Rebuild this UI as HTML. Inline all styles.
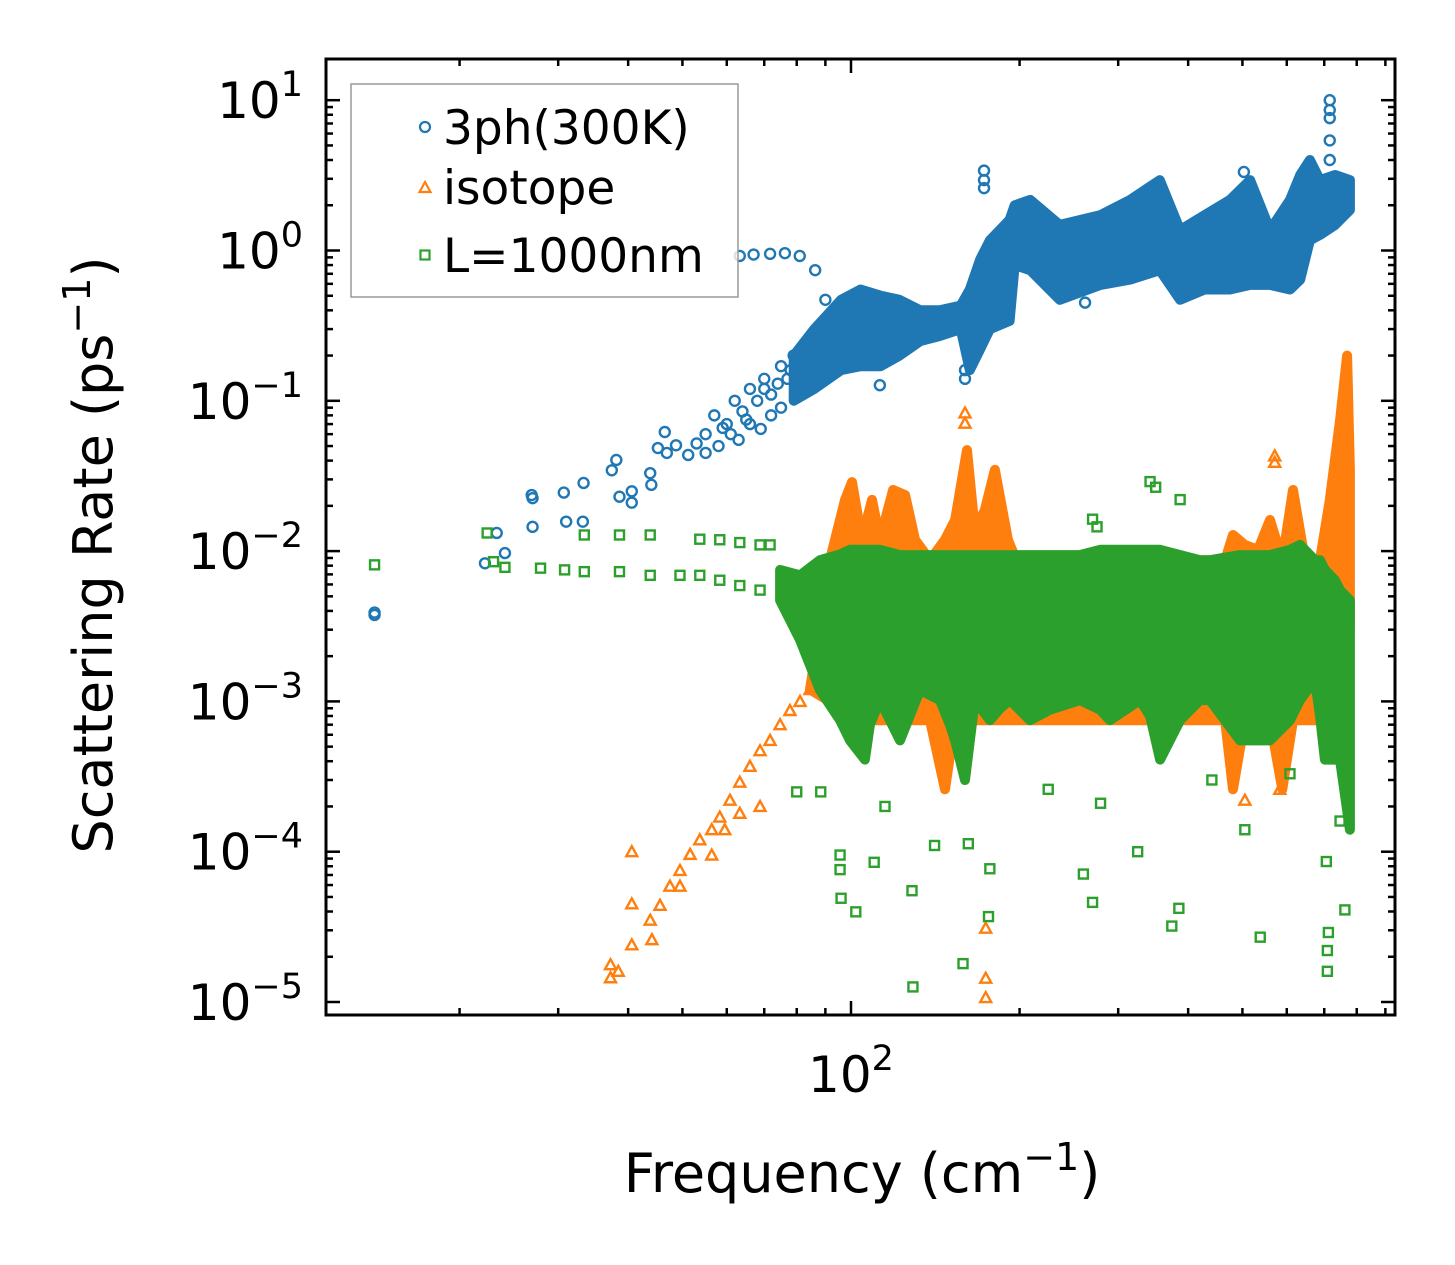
<!DOCTYPE html>
<html><head><meta charset="utf-8"><style>
html,body{margin:0;padding:0;background:#fff;}
svg{display:block;font-family:"DejaVu Sans","Liberation Sans",sans-serif;}
</style></head><body>
<svg id="chart" width="1455" height="1265" viewBox="0 0 1455 1265" xmlns="http://www.w3.org/2000/svg">
<rect x="0" y="0" width="1455" height="1265" fill="#fff"/>
<defs><clipPath id="clip"><rect x="326" y="59" width="1069" height="956"/></clipPath></defs>
<g id="bands" clip-path="url(#clip)"></g>
<g id="ticks"></g>
<rect x="326" y="59" width="1069" height="956" fill="none" stroke="#000" stroke-width="3"/>
<g id="ylabels" font-size="50" text-anchor="end"></g>
<text x="851" y="1092" font-size="50" text-anchor="middle">10<tspan font-size="35" dy="-22">2</tspan></text>
<text x="862" y="1192" font-size="54" text-anchor="middle">Frequency (cm<tspan font-size="38" dy="-22">−1</tspan><tspan dy="22">)</tspan></text>
<text transform="translate(112,555) rotate(-90)" font-size="54" text-anchor="middle">Scattering Rate (ps<tspan font-size="38" dy="-22">−1</tspan><tspan dy="22">)</tspan></text>
<g>
<rect x="351" y="84" width="387" height="213" fill="#fff" fill-opacity="0.8" stroke="#999" stroke-width="1.5"/>
<circle cx="425" cy="127" r="5" fill="none" stroke="#1f77b4" stroke-width="2.2"/>
<text x="443" y="144" font-size="47">3ph(300K)</text>
<path d="M425,182 L430.5,192 L419.5,192 Z" fill="none" stroke="#ff7f0e" stroke-width="2.2"/>
<text x="443" y="204" font-size="47">isotope</text>
<rect x="420.5" y="250.5" width="9" height="9" fill="none" stroke="#2ca02c" stroke-width="2.2"/>
<text x="443" y="272" font-size="47">L=1000nm</text>
</g>
</svg>
<script>
// ---- data ----
const blueBandFreq=[79,86,96,104,113,122,133,144,157,163,170,177,192,196,209,236,279,315,356,387,428,475,516,560,608,634,660,688,732,778];
const blueBandHi=[0.2,0.3,0.47,0.55,0.5,0.47,0.40,0.40,0.43,0.55,0.87,1.17,1.6,2.0,2.17,1.48,1.72,2.17,2.94,1.37,1.72,2.17,2.94,1.37,2.17,3.18,4.0,2.94,3.18,2.94];
const blueBandLo=[0.1,0.12,0.16,0.17,0.17,0.2,0.25,0.27,0.30,0.16,0.22,0.30,0.34,0.80,0.74,0.47,0.59,0.64,0.74,0.47,0.55,0.55,0.59,0.59,0.55,0.64,1.17,1.27,1.48,1.86];
const blueFreq=[14.1,14.1,22.2,23.3,24.1,26.9,27.0,27.0,30.7,31,33.2,33.3,37.4,38.1,38.6,40.6,40.6,43.8,44,45.2,46.5,46.9,48.7,51.2,63.3,67,71.7,76.2,81,86.3,90,112.6,159.8,159.8,172.8,172.8,172.8,261.8,716,716,716,716,716,503,560,610,
55,57,60,62,64,66,68,70,72,75,77,79,55,58,61,63,66,69,72,75,53,59,65,70,74,78];
const blueRate=[0.00376,0.0039,0.0083,0.0132,0.0097,0.0236,0.0225,0.0145,0.0245,0.0157,0.0157,0.0284,0.0345,0.0404,0.023,0.021,0.025,0.033,0.0276,0.0485,0.062,0.045,0.0506,0.0436,0.92,0.94,0.95,0.96,0.92,0.74,0.47,0.127,0.16,0.14,3.4,2.94,2.6,0.45,4.0,5.4,7.6,8.6,10.0,3.33,0.7,0.65,
0.06,0.08,0.07,0.1,0.085,0.12,0.1,0.14,0.11,0.17,0.14,0.2,0.045,0.05,0.06,0.055,0.07,0.065,0.08,0.09,0.052,0.066,0.075,0.12,0.13,0.16];

const orangeBandFreq=[84.5,91.7,97.6,100.4,104.6,109,112.6,118.9,124.9,130.1,138.4,147.2,153.4,161.1,166.4,173.4,180.7,190.6,200.4,236,278.6,328,387,465.6,481,505,533,560,589,615.6,646.6,688,716,747,769,778];
const orangeBandHi=[0.0012,0.0087,0.022,0.0288,0.0119,0.0219,0.0119,0.0255,0.0236,0.0119,0.0087,0.0119,0.0161,0.047,0.0138,0.0188,0.0347,0.0119,0.0075,0.0087,0.0087,0.0087,0.0087,0.0087,0.0128,0.011,0.0102,0.0161,0.0087,0.0255,0.0087,0.0087,0.0219,0.0745,0.2,0.0347];
const orangeBandLo=[0.0012,0.001,0.00075,0.00075,0.00075,0.00075,0.00075,0.00075,0.00075,0.00075,0.00075,0.00026,0.00075,0.00075,0.00075,0.00075,0.00075,0.00075,0.00075,0.00075,0.00075,0.00075,0.00075,0.00075,0.00026,0.00075,0.00075,0.00075,0.00026,0.00075,0.00075,0.00075,0.00075,0.00075,0.00075,0.0035];
const orangeFreq=[37.2,37.2,38.4,40.6,43.8,44.1,45.6,47.5,49.5,51.6,53.7,56.4,56.4,58.3,60.8,63.3,66,68.8,71.7,74.7,77.8,81.1,84.5,63.3,68.8,59.5,49.5,40.6,40.6,174,174,174,159.8,159.8,571,571,583,505];
const orangeRate=[1.77e-5,1.45e-5,1.6e-5,2.4e-5,3.5e-5,2.6e-5,4.4e-5,5.9e-5,7.5e-5,9.6e-5,1.2e-4,1.4e-4,9.5e-5,1.7e-4,2.2e-4,2.9e-4,3.7e-4,4.7e-4,5.5e-4,7e-4,8.7e-4,1.0e-3,1.2e-3,1.8e-4,2.0e-4,1.4e-4,5.9e-5,1.0e-4,4.5e-5,1.44e-5,1.07e-5,3.1e-5,0.083,0.071,0.043,0.039,2.6e-4,2.2e-4];

const greenBandFreq=[74.7,81.1,88,95.6,99.6,105.9,108.1,112.6,122.3,132.8,144.2,150.2,153.4,159.8,166.4,177.1,184.6,192.3,208.8,226.6,256.3,278.6,290,328,342,356.4,387,420,437.5,495,516,560,608,633.6,674,688,702,731.5,746.7,778];
const greenBandHi=[0.0075,0.0069,0.0087,0.0095,0.0102,0.0102,0.0102,0.0102,0.0094,0.0094,0.0094,0.0094,0.0094,0.0094,0.0094,0.0094,0.0094,0.0094,0.0094,0.0094,0.0094,0.0102,0.0102,0.0102,0.0102,0.0102,0.0094,0.0087,0.0087,0.0094,0.0094,0.0094,0.0102,0.011,0.0087,0.0087,0.0075,0.0064,0.0055,0.0047];
const greenBandLo=[0.0047,0.00256,0.00119,0.00075,0.00055,0.00041,0.0007,0.00102,0.00055,0.00119,0.00102,0.0007,0.00055,0.0003,0.00102,0.00075,0.0009,0.00102,0.00075,0.00088,0.00102,0.00088,0.00075,0.00102,0.0008,0.00041,0.00075,0.00102,0.00102,0.00055,0.00055,0.00055,0.00075,0.00102,0.00139,0.0008,0.00041,0.00041,0.00041,0.00014];
const greenFreq=[14.1,22.4,23,24.1,27.9,30.8,33.4,33.4,38.6,38.6,43.8,43.8,49.5,53.7,53.7,58.3,63.3,68.8,71.7,58.3,63.3,68.8,80,95.6,95.6,96,102,110,128.5,141,158.5,162,177,176,260,270,325,374,385,538,706,712,709,709,762,129,88.3,115,225,279,441,505,608,747,342,350,270,275,387];
const greenRate=[0.0081,0.0132,0.0085,0.0078,0.0077,0.0075,0.0128,0.0073,0.0073,0.0128,0.0128,0.0069,0.0069,0.012,0.0069,0.0119,0.0114,0.011,0.011,0.0064,0.0059,0.0055,2.5e-4,9.5e-5,7.6e-5,4.9e-5,3.98e-5,8.5e-5,5.5e-5,1.1e-4,1.8e-5,1.13e-4,7.7e-5,3.7e-5,7.1e-5,4.6e-5,1e-4,3.2e-5,4.2e-5,2.7e-5,8.6e-5,2.9e-5,1.6e-5,2.2e-5,4.1e-5,1.26e-5,2.5e-4,2.0e-4,2.6e-4,2.1e-4,3.0e-4,1.4e-4,3.3e-4,1.6e-4,0.029,0.0266,0.0163,0.0145,0.022];

const yTickExps=[1,0,-1,-2,-3,-4,-5];
const xMinorTicks=[20,30,40,50,60,70,80,90,200,300,400,500,600,700,800,900];

// ---- axes ----
const X0=851, XD=560, Y0=250.5, YD=150.3;
function xs(f){return X0+XD*(Math.log10(f)-2);}
function ys(r){return Y0-YD*Math.log10(r);}
const NS='http://www.w3.org/2000/svg';
function mk(tag,attrs,parent){const e=document.createElementNS(NS,tag);for(const k in attrs)e.setAttribute(k,attrs[k]);parent.appendChild(e);return e;}
const plot=document.getElementById('bands');
const C={blue:'#1f77b4',orange:'#ff7f0e',green:'#2ca02c'};

function band(fr,hi,lo,col,name){
  let pts=[];
  for(let i=0;i<fr.length;i++)pts.push(xs(fr[i]).toFixed(1)+','+ys(hi[i]).toFixed(1));
  for(let i=fr.length-1;i>=0;i--)pts.push(xs(fr[i]).toFixed(1)+','+ys(lo[i]).toFixed(1));
  const p=mk('polygon',{points:pts.join(' '),fill:col,stroke:col,'stroke-width':10,'stroke-linejoin':'round'},plot);
  
  
}
function circles(fr,rt,col,g){
  for(let i=0;i<fr.length;i++){
    const c=mk('circle',{cx:xs(fr[i]),cy:ys(rt[i]),r:5,fill:'none',stroke:col,'stroke-width':2.4},g);
    
    
  }
}
function tris(fr,rt,col,g){
  for(let i=0;i<fr.length;i++){
    const x=xs(fr[i]),y=ys(rt[i]);
    const t=mk('path',{d:`M${x},${y-5.5} L${x+5.5},${y+4.5} L${x-5.5},${y+4.5} Z`,fill:'none',stroke:col,'stroke-width':2.4},g);
    
    
  }
}
function squares(fr,rt,col,g){
  for(let i=0;i<fr.length;i++){
    const s=mk('rect',{x:xs(fr[i])-4.5,y:ys(rt[i])-4.5,width:9,height:9,fill:'none',stroke:col,'stroke-width':2.4},g);
    
    
  }
}
const gb=mk('g',{},plot);


band(blueBandFreq,blueBandHi,blueBandLo,C.blue,'band-3ph');
circles(blueFreq,blueRate,C.blue,gb);
const go=mk('g',{},plot);


band(orangeBandFreq,orangeBandHi,orangeBandLo,C.orange,'band-isotope');
tris(orangeFreq,orangeRate,C.orange,go);
const gg=mk('g',{},plot);


band(greenBandFreq,greenBandHi,greenBandLo,C.green,'band-l1000nm');
squares(greenFreq,greenRate,C.green,gg);

// ticks
const tk=document.getElementById('ticks');
const L=326,R=1395,T=59,B=1015;
function line(x1,y1,x2,y2,name){const l=mk('line',{x1,y1,x2,y2,stroke:'#000','stroke-width':2.5},tk);
  
  }
const yl=document.getElementById('ylabels');
for(const e of yTickExps){
  const y=ys(Math.pow(10,e));
  line(L,y,L+14,y,'y-major-tick');line(R,y,R-14,y,'y-major-tick-right');
  const t=mk('text',{x:303,y:y+18},yl);
  
  
  t.textContent='10';
  const s=mk('tspan',{'font-size':35,dy:-22},t);
  s.textContent=(e<0?'−':'')+Math.abs(e);
  if(e>-5){for(let m=2;m<10;m++){const yy=ys(m*Math.pow(10,e-1));line(L,yy,L+7,yy,'y-minor-tick');line(R,yy,R-7,yy,'y-minor-tick-right');}}
}
const xm=xs(100);line(xm,B,xm,B-14,'x-major-tick');line(xm,T,xm,T+14,'x-major-tick-top');
for(const f of xMinorTicks){const x=xs(f);if(x>L&&x<R){line(x,B,x,B-7,'x-minor-tick');line(x,T,x,T+7,'x-minor-tick-top');}}
</script>
</body></html>
